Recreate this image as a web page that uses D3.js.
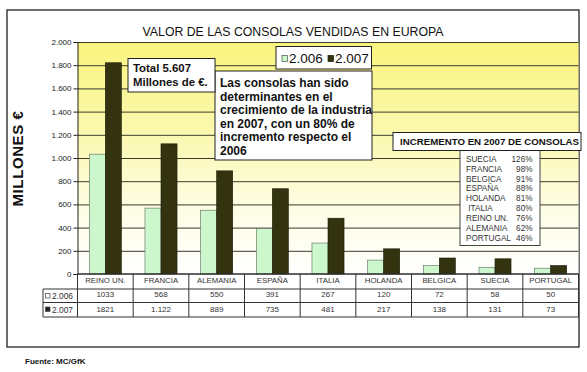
<!DOCTYPE html>
<html><head><meta charset="utf-8">
<script src="https://cdn.jsdelivr.net/npm/d3@7"></script>
<style>
html,body{margin:0;padding:0;background:#fff;}
text{font-family:"Liberation Sans",Arial,sans-serif;}
</style></head>
<body><svg id="c" width="587" height="372"></svg>
<script>
const categories = ["REINO UN.","FRANCIA","ALEMANIA","ESPAÑA","ITALIA","HOLANDA","BELGICA","SUECIA","PORTUGAL"];
const series = ["2.006","2.007"];
const values2006 = [1033,568,550,391,267,120,72,58,50];
const values2007 = [1821,1122,889,735,481,217,138,131,73];
const tableLabels2006 = ["1033","568","550","391","267","120","72","58","50"];
const tableLabels2007 = ["1821","1.122","889","735","481","217","138","131","73"];
const yTicks = [0,200,400,600,800,1000,1200,1400,1600,1800,2000];
const incrementCountries = ["SUECIA","FRANCIA","BELGICA","ESPAÑA","HOLANDA"," ITALIA","REINO UN.","ALEMANIA","PORTUGAL"];
const incrementPct = ["126%","98%","91%","88%","81%","80%","76%","62%","46%"];
const title = "VALOR DE LAS CONSOLAS VENDIDAS EN EUROPA";
const yTitle = "MILLONES €";
const note1 = ["Total 5.607","Millones de €."];
const note2 = ["Las consolas han sido","determinantes en el","crecimiento de la industria","en 2007, con un 80% de","incremento respecto el","2006"];
const incTitle = "INCREMENTO EN 2007 DE CONSOLAS";
const source = "Fuente: MC/GfK";
const colors = ["#ccf7cc","#333310"];

const svg = d3.select("#c");
const defs = svg.append("defs");
const grad = defs.append("linearGradient").attr("id","bg").attr("x1",0).attr("y1",0).attr("x2",0).attr("y2",1);
grad.append("stop").attr("offset","0").attr("stop-color","#f9f47e");
grad.append("stop").attr("offset","0.4").attr("stop-color","#fbf8b0");
grad.append("stop").attr("offset","0.72").attr("stop-color","#fefde4");
grad.append("stop").attr("offset","1").attr("stop-color","#ffffff");

const L = 77.5, R = 578.5, T = 42, B = 274;
const x = d3.scaleBand().domain(categories).range([L, R]).padding(0);
const bw = x.bandwidth();
const x1 = d3.scaleBand().domain(series).range([11.8, bw - 11.8]).padding(0);
const y = d3.scaleLinear().domain([0, 2000]).range([B, T]);

// frame
svg.append("rect").attr("x",7).attr("y",10).attr("width",572).attr("height",337)
  .attr("fill","#fff").attr("stroke","#222").attr("stroke-width",1.3);

// plot background
svg.append("rect").attr("x",L).attr("y",T).attr("width",R-L).attr("height",B-T).attr("fill","url(#bg)");

// gridlines
svg.append("g").selectAll("line").data(yTicks.filter(d=>d>0)).join("line")
  .attr("x1",L).attr("x2",R).attr("y1",d=>y(d)+0.5).attr("y2",d=>y(d)+0.5)
  .attr("stroke","#3a3a2a").attr("stroke-width",1);

// title
svg.append("text").attr("x",293).attr("y",35.5).attr("text-anchor","middle")
  .attr("font-size",12.3).attr("fill","#111").text(title);

// y axis
const yAxis = d3.axisLeft(y).tickValues(yTicks).tickSize(4).tickPadding(2)
  .tickFormat(d => d3.formatLocale({decimal:",",thousands:".",grouping:[3],currency:["","€"]}).format(",")(d));
const ga = svg.append("g").attr("transform",`translate(${L},0)`).call(yAxis);
ga.select(".domain").attr("stroke","#222");
ga.selectAll(".tick line").attr("stroke","#222");
ga.selectAll(".tick text").attr("font-size",8).attr("fill","#222").attr("font-family","Liberation Sans, Arial, sans-serif");

svg.append("text").attr("transform","translate(23,158.5) rotate(-90)").attr("text-anchor","middle")
  .attr("font-size",15).attr("font-weight","bold").attr("letter-spacing",0.6).attr("fill","#111").text(yTitle);

// bars
const data = categories.map((c,i)=>({c, v:[values2006[i], values2007[i]]}));
const gb = svg.append("g").selectAll("g").data(data).join("g").attr("transform",d=>`translate(${x(d.c)},0)`);
gb.selectAll("rect").data(d=>d.v.map((v,j)=>({s:series[j], v, j}))).join("rect")
  .attr("x",d=>x1(d.s)).attr("width",x1.bandwidth())
  .attr("y",d=>y(d.v)).attr("height",d=>B-y(d.v))
  .attr("fill",d=>colors[d.j]).attr("stroke",d=>d.j?"#1a1a08":"#5a6a5a").attr("stroke-width",0.6);

// axis baseline
svg.append("line").attr("x1",L).attr("x2",R).attr("y1",B).attr("y2",B).attr("stroke","#222");

// data table
const rowY = [274, 289, 302.5, 317];
const tg = svg.append("g").attr("stroke","#333").attr("stroke-width",1);
rowY.forEach((ry,i)=>{
  tg.append("line").attr("x1", i===0?L:43).attr("x2",R).attr("y1",ry).attr("y2",ry);
});
categories.forEach(c=>{
  tg.append("line").attr("x1",x(c)).attr("x2",x(c)).attr("y1",274).attr("y2",317);
});
tg.append("line").attr("x1",R).attr("x2",R).attr("y1",274).attr("y2",317);
tg.append("line").attr("x1",43).attr("x2",43).attr("y1",289).attr("y2",317);

svg.append("g").selectAll("text").data(categories).join("text")
  .attr("x",d=>x(d)+bw/2).attr("y",283).attr("text-anchor","middle")
  .attr("font-size",7.8).attr("fill","#333").text(d=>d);
svg.append("g").selectAll("text").data(tableLabels2006).join("text")
  .attr("x",(d,i)=>x(categories[i])+bw/2).attr("y",297).attr("text-anchor","middle")
  .attr("font-size",8).attr("fill","#333").text(d=>d);
svg.append("g").selectAll("text").data(tableLabels2007).join("text")
  .attr("x",(d,i)=>x(categories[i])+bw/2).attr("y",312).attr("text-anchor","middle")
  .attr("font-size",8).attr("fill","#333").text(d=>d);
// table keys
[0,1].forEach(j=>{
  const cy = j ? 309.5 : 296;
  svg.append("rect").attr("x",45.5).attr("y",cy-2.5).attr("width",4.5).attr("height",4.5)
    .attr("fill", j ? "#222" : "#fff").attr("stroke","#444").attr("stroke-width",0.7);
  svg.append("text").attr("x",52).attr("y",cy+3).attr("font-size",8.4).attr("fill","#333").text(series[j]);
});

// legend
svg.append("rect").attr("x",276).attr("y",46.5).attr("width",95.5).attr("height",22.5)
  .attr("fill","#fff").attr("stroke","#222").attr("stroke-width",1);
const legX = [282, 328];
series.forEach((s,j)=>{
  svg.append("rect").attr("x",legX[j]).attr("y",55.5).attr("width",5.5).attr("height",6)
    .attr("fill", colors[j]).attr("stroke", j?"#1a1a08":"#445544").attr("stroke-width",0.7);
  svg.append("text").attr("x",legX[j]+7).attr("y",63.3).attr("font-size",13.5).attr("fill","#111").text(s);
});

// note boxes
svg.append("rect").attr("x",215).attr("y",71).attr("width",157).attr("height",89)
  .attr("fill","#fff").attr("stroke","#222").attr("stroke-width",1);
svg.append("g").selectAll("text").data(note2).join("text")
  .attr("x",220).attr("y",(d,i)=>87+i*13.6).attr("font-size",12).attr("font-weight","bold")
  .attr("fill","#111").text(d=>d);

svg.append("rect").attr("x",128).attr("y",58.5).attr("width",87).attr("height",33.5)
  .attr("fill","#fff").attr("stroke","#222").attr("stroke-width",1);
svg.append("g").selectAll("text").data(note1).join("text")
  .attr("x",133).attr("y",(d,i)=>72+i*14).attr("font-size",11.4).attr("font-weight","bold")
  .attr("fill","#111").text(d=>d);

// increment boxes
svg.append("rect").attr("x",460).attr("y",150.5).attr("width",80).attr("height",95)
  .attr("fill","#fff").attr("stroke","#444").attr("stroke-width",1);
svg.append("rect").attr("x",393).attr("y",132.5).attr("width",188).attr("height",18)
  .attr("fill","#fff").attr("stroke","#222").attr("stroke-width",1);
svg.append("text").attr("x",400).attr("y",145).attr("font-size",9.7).attr("font-weight","bold")
  .attr("fill","#111").text(incTitle);
svg.append("g").selectAll("text").data(incrementCountries).join("text")
  .attr("x",466).attr("y",(d,i)=>162+i*9.83).attr("font-size",8.2).attr("fill","#333")
  .attr("xml:space","preserve").style("white-space","pre").text(d=>d);
svg.append("g").selectAll("text").data(incrementPct).join("text")
  .attr("x",532.5).attr("y",(d,i)=>162+i*9.83).attr("font-size",8.2).attr("fill","#333")
  .attr("text-anchor","end").text(d=>d);

// source
svg.append("text").attr("x",25).attr("y",363.5).attr("font-size",8).attr("font-weight","bold")
  .attr("fill","#111").text(source);
</script></body></html>
